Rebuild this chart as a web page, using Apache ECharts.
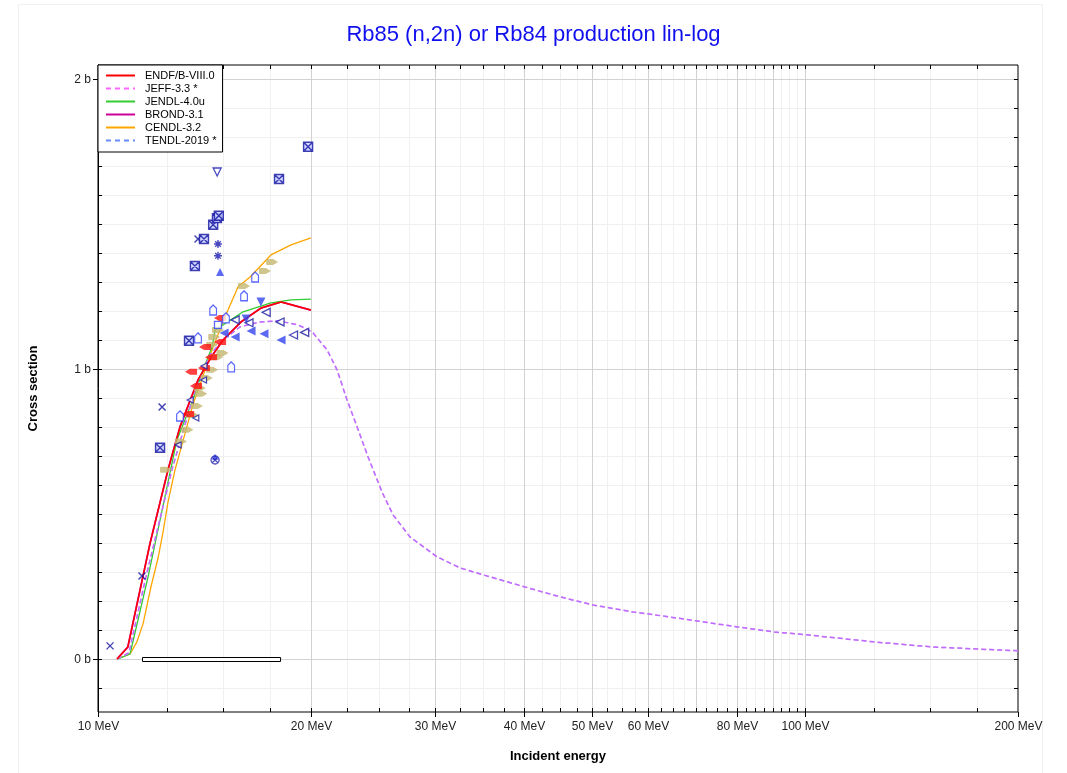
<!DOCTYPE html>
<html>
<head>
<meta charset="utf-8">
<script src="https://cdn.jsdelivr.net/npm/echarts@6/dist/echarts.min.js"></script>
<style>
html,body{margin:0;padding:0;background:#fff;}
#chart{width:1067px;height:773px;}
</style>
</head>
<body>
<div id="chart"></div>
<script>
// ---------- axis ticks / grid values ----------
const xMajorGrid = [10, 20, 30, 40, 50, 60, 70, 80, 90, 100, 200];
const xMinorGrid = [12.5, 15, 17.5, 22.5, 25, 27.5, 32.5, 35, 37.5, 42.5, 45, 47.5, 52.5, 55, 57.5,
  62.5, 65, 67.5, 72.5, 75, 77.5, 82.5, 85, 87.5, 92.5, 95, 97.5, 125, 150, 175];
const xTickLabels = [10, 20, 30, 40, 50, 60, 80, 100, 200];
const yMajorGrid = [0, 1, 2];
const yMinorGrid = [-0.1, 0.1, 0.2, 0.3, 0.4, 0.5, 0.6, 0.7, 0.8, 0.9, 1.1, 1.2, 1.3, 1.4, 1.5, 1.6, 1.7, 1.8, 1.9, 2.0];
const yTickLabels = ['0 b', '1 b', '2 b'];
const xMin = 10, xMax = 200, yMin = -0.183, yMax = 2.048;

// ---------- evaluated curves ----------
const endfE = [10.64, 11.02, 11.85, 12.56, 13.06, 13.85, 14.45, 15.03, 15.93, 17.0, 18.15, 20.0];
const endfS = [0, 0.041, 0.40, 0.652, 0.80, 0.962, 1.04, 1.10, 1.162, 1.21, 1.231, 1.203];
const jendlE = [10.67, 11.10, 11.77, 12.93, 13.62, 14.08, 14.50, 14.64, 14.80, 16.04, 17.56, 18.75, 20.0];
const jendlS = [0, 0.017, 0.283, 0.755, 0.893, 0.997, 1.076, 1.134, 1.141, 1.197, 1.228, 1.238, 1.241];
const cendlE = [10.64, 11.10, 11.35, 11.58, 11.88, 12.16, 12.36, 12.56, 12.85, 13.62, 14.55, 15.12, 15.78, 16.41, 17.56, 18.75, 20.0];
const cendlS = [0, 0.017, 0.059, 0.121, 0.248, 0.348, 0.438, 0.541, 0.652, 0.876, 1.076, 1.179, 1.283, 1.317, 1.393, 1.428, 1.452];
const tendlE = [10.64, 11.06, 11.69, 12.72, 13.72, 14.40, 15.02, 15.88, 16.95, 17.97, 19.18, 20.08, 21.08, 21.78,
  22.50, 23.25, 24.09, 25.21, 26.13, 27.61, 30.17, 32.51, 35.04, 40.18, 45.03, 50.13, 57.1, 60.1, 70.3, 80.4,
  90.4, 100.7, 124.8, 151.7, 200];
const tendlS = [0, 0.021, 0.283, 0.652, 0.928, 1.048, 1.10, 1.145, 1.162, 1.166, 1.152, 1.128, 1.066, 0.997,
  0.893, 0.80, 0.697, 0.576, 0.497, 0.421, 0.352, 0.314, 0.290, 0.248, 0.214, 0.186, 0.162, 0.155, 0.131, 0.110,
  0.093, 0.083, 0.059, 0.041, 0.028];
const jeffE = tendlE.slice();
const jeffS = tendlS.slice();
const brondE = endfE.slice();
const brondS = endfS.slice();

// ---------- experimental points [E (MeV), sigma (b)] ----------
const expCross = [[10.40, 0.045], [11.54, 0.286], [12.32, 0.869], [13.85, 1.448]];
const expCrossFaint = [[14.55, 1.869]];
const expCrossSquare = [[12.24, 0.728], [13.45, 1.097], [13.71, 1.355], [14.12, 1.448], [14.55, 1.497],
  [14.73, 1.52], [14.82, 1.528], [18.03, 1.655], [19.82, 1.766]];
const expDownOpen = [[14.74, 1.679]];
const expAsterisk = [[14.78, 1.431], [14.78, 1.39]];
const expUpFilled = [[14.88, 1.334]];
const expHouse = [[14.55, 1.203], [15.17, 1.176], [16.09, 1.252], [16.68, 1.317], [13.85, 1.107], [13.06, 0.838], [15.43, 1.007]];
const expSquareOpen = [[14.78, 1.152]];
const expRed = [[14.88, 1.176], [14.17, 1.076], [13.54, 0.99], [13.76, 0.941], [13.41, 0.845], [14.45, 1.04], [14.88, 1.093], [14.12, 1.003]];
const expKhaki = [[17.63, 1.369], [17.22, 1.338], [16.09, 1.286], [14.78, 1.134], [14.5, 1.083], [15.0, 1.055],
  [14.75, 1.041], [14.5, 0.997], [14.25, 0.969], [13.93, 0.934], [14.0, 0.914], [13.8, 0.872], [13.6, 0.841],
  [13.38, 0.79], [13.1, 0.75], [12.48, 0.652], [14.6, 1.11]];
const expLeftFilled = [[15.63, 1.110], [16.46, 1.131], [17.17, 1.121], [18.15, 1.10], [15.08, 1.124]];
const expDownFilled = [[17.0, 1.231], [16.2, 1.172]];
const expLeftOpen = [[15.63, 1.169], [16.35, 1.159], [17.29, 1.195], [18.09, 1.162], [18.9, 1.117], [19.6, 1.126]];
const expSmallNavy = [[14.1, 0.962], [13.5, 0.893], [13.75, 0.831], [12.98, 0.738], [14.12, 1.01]];
const expCircleCross = [[14.64, 0.686]];
const expSmallTri = [[14.64, 0.697]];
const energyRange = [[11.54, 18.09, 0]];

function zip(a, b) { return a.map((v, i) => [v, b[i]]); }

const P_CROSS = 'path://M0,0L10,10M10,0L0,10';
const P_XSQ = 'path://M0,0L10,0L10,10L0,10Z M0,0L10,10 M10,0L0,10';
const P_AST = 'path://M5,0L5,10M0,5L10,5M1.5,1.5L8.5,8.5M8.5,1.5L1.5,8.5';
const P_HOUSE = 'path://M5,0L10,4L10,12L0,12L0,4Z';
const P_REDARROW = 'path://M0,4L5,0L12,0L12,8L5,8Z';
const P_KHAKI = 'path://M0,1Q0,0 1,0L7,0L12,4L7,8L1,8Q0,8 0,7Z';
const P_LEFT = 'path://M0,5L10,0L10,10Z';
const P_CIRCX = 'path://M0,5A5,5 0 1,1 10,5A5,5 0 1,1 0,5Z M1.5,1.5L8.5,8.5M8.5,1.5L1.5,8.5';

function scatter(data, symbol, size, itemStyle, extra) {
  return Object.assign({
    type: 'scatter', data: data, symbol: symbol, symbolSize: size,
    itemStyle: itemStyle, z: 4, silent: true, symbolKeepAspect: true
  }, extra || {});
}

function renderGrid(params, api) {
  const ch = [];
  const bl = api.coord([xMin, yMin]);
  const tr = api.coord([xMax, yMax]);
  const L = bl[0], B = bl[1], R = tr[0], T = tr[1];
  const font = '12px "Liberation Sans", Arial, sans-serif';
  function vline(v, color) {
    const x = Math.round(api.coord([v, 0])[0]) + 0.5;
    ch.push({type: 'line', shape: {x1: x, y1: B, x2: x, y2: T}, style: {stroke: color, lineWidth: 1}});
    ch.push({type: 'line', shape: {x1: x, y1: B, x2: x, y2: B - 4}, style: {stroke: '#000', lineWidth: 1}});
    ch.push({type: 'line', shape: {x1: x, y1: T, x2: x, y2: T + 4}, style: {stroke: '#000', lineWidth: 1}});
  }
  function hline(v, color) {
    const y = Math.round(api.coord([xMin, v])[1]) + 0.5;
    ch.push({type: 'line', shape: {x1: L, y1: y, x2: R, y2: y}, style: {stroke: color, lineWidth: 1}});
    ch.push({type: 'line', shape: {x1: L, y1: y, x2: L + 4, y2: y}, style: {stroke: '#000', lineWidth: 1}});
    ch.push({type: 'line', shape: {x1: R, y1: y, x2: R - 4, y2: y}, style: {stroke: '#000', lineWidth: 1}});
  }
  xMinorGrid.forEach(v => vline(v, '#f0f0f0'));
  yMinorGrid.forEach(v => hline(v, '#f0f0f0'));
  xMajorGrid.forEach(v => { if (v !== xMin && v !== xMax) vline(v, '#d2d2d2'); });
  yMajorGrid.forEach(v => hline(v, '#d2d2d2'));
  xTickLabels.forEach(v => {
    const x = Math.round(api.coord([v, 0])[0]) + 0.5;
    ch.push({type: 'line', shape: {x1: x, y1: B, x2: x, y2: B + 5}, style: {stroke: '#000', lineWidth: 1}});
    ch.push({type: 'text', x: x, y: B + 9, style: {text: v + ' MeV', fill: '#222', font: font, textAlign: 'center', textVerticalAlign: 'top', verticalAlign: 'top'}});
  });
  yMajorGrid.forEach((v, i) => {
    const y = Math.round(api.coord([xMin, v])[1]) + 0.5;
    ch.push({type: 'line', shape: {x1: L, y1: y, x2: L - 5, y2: y}, style: {stroke: '#000', lineWidth: 1}});
    ch.push({type: 'text', x: L - 7, y: y, style: {text: yTickLabels[i], fill: '#222', font: font, textAlign: 'right', textVerticalAlign: 'middle', verticalAlign: 'middle'}});
  });
  return {type: 'group', children: ch};
}

function renderRange(params, api) {
  const a = api.coord([api.value(0), api.value(2)]);
  const b = api.coord([api.value(1), api.value(2)]);
  return {type: 'rect', shape: {x: Math.round(a[0]) + 0.5, y: Math.round(a[1]) - 1.5, width: b[0] - a[0], height: 4},
    style: {fill: '#fff', stroke: '#000', lineWidth: 1}};
}

const chart = echarts.init(document.getElementById('chart'), null, {renderer: 'canvas'});
const FONT = '"Liberation Sans", Arial, sans-serif';
chart.setOption({
  backgroundColor: '#fff',
  animation: false,
  title: {
    text: 'Rb85 (n,2n) or Rb84 production lin-log',
    left: 'center', top: 19,
    textStyle: {color: '#1010ee', fontSize: 22, fontWeight: 'normal', fontFamily: FONT}
  },
  graphic: [{type: 'rect', shape: {x: 18.5, y: 4.5, width: 1024, height: 775}, style: {fill: 'none', stroke: '#f0f0f0', lineWidth: 1}, silent: true, z: -10}],
  grid: {left: 98, right: 49, top: 65, bottom: 61, show: true, borderColor: '#000', borderWidth: 1, backgroundColor: 'transparent'},
  legend: {
    left: 98, top: 65, orient: 'vertical',
    itemWidth: 29, itemHeight: 8, itemGap: 2,
    padding: [5, 6, 6, 7],
    borderColor: '#000', borderWidth: 1, backgroundColor: '#fff', borderRadius: 0,
    itemStyle: {opacity: 0},
    textStyle: {fontSize: 11, color: '#000', fontFamily: FONT, padding: [0, 0, 0, 5]},
    data: [
      {name: 'ENDF/B-VIII.0'},
      {name: 'JEFF-3.3 *', lineStyle: {color: '#ff66ff', type: [5, 4], width: 1.8}},
      {name: 'JENDL-4.0u'},
      {name: 'BROND-3.1'},
      {name: 'CENDL-3.2'},
      {name: 'TENDL-2019 *', lineStyle: {color: '#3366ff', type: [5, 4], width: 1.8}}
    ],
    z: 10
  },
  xAxis: {
    type: 'log', logBase: 10, min: xMin, max: xMax,
    axisLine: {show: true, lineStyle: {color: '#000'}},
    axisTick: {show: false}, axisLabel: {show: false}, splitLine: {show: false},
    name: 'Incident energy', nameLocation: 'middle', nameGap: 38,
    nameTextStyle: {fontWeight: 'bold', fontSize: 13, color: '#000', fontFamily: FONT}
  },
  yAxis: {
    type: 'value', min: yMin, max: yMax,
    axisLine: {show: true, lineStyle: {color: '#000'}},
    axisTick: {show: false}, axisLabel: {show: false}, splitLine: {show: false},
    name: 'Cross section', nameLocation: 'middle', nameGap: 58,
    nameTextStyle: {fontWeight: 'bold', fontSize: 13, color: '#000', fontFamily: FONT}
  },
  series: [
    {type: 'custom', name: 'grid', coordinateSystem: 'cartesian2d', renderItem: renderGrid, data: [[xMin, 0]], z: 1, silent: true, clip: false},
    {type: 'line', name: 'BROND-3.1', data: zip(brondE, brondS), symbol: 'none', lineStyle: {color: '#cc0099', width: 1.8}, itemStyle: {color: '#cc0099'}, z: 3},
    {type: 'line', name: 'CENDL-3.2', data: zip(cendlE, cendlS), symbol: 'none', lineStyle: {color: '#ffa500', width: 1.3}, itemStyle: {color: '#ffa500'}, z: 3},
    {type: 'line', name: 'JENDL-4.0u', data: zip(jendlE, jendlS), symbol: 'none', lineStyle: {color: '#33cc33', width: 1.3}, itemStyle: {color: '#33cc33'}, z: 3},
    {type: 'line', name: 'JEFF-3.3 *', data: zip(jeffE, jeffS), symbol: 'none', lineStyle: {color: '#ee88ff', width: 1.5, type: [5, 3]}, itemStyle: {color: '#ee88ff'}, z: 3},
    {type: 'line', name: 'TENDL-2019 *', data: zip(tendlE, tendlS), symbol: 'none', lineStyle: {color: '#aa66ff', width: 1.5, type: [5, 3], opacity: 0.75}, itemStyle: {color: '#aa66ff'}, z: 3},
    {type: 'line', name: 'ENDF/B-VIII.0', data: zip(endfE, endfS), symbol: 'none', lineStyle: {color: '#ff0000', width: 1.5}, itemStyle: {color: '#ff0000'}, z: 3},
    {type: 'custom', name: 'range', coordinateSystem: 'cartesian2d', renderItem: renderRange, data: energyRange, z: 5, silent: true, clip: false},
    scatter(expKhaki, P_KHAKI, [12, 9], {color: '#c4b870'}),
    scatter(expRed, P_REDARROW, [12, 9], {color: '#ff1010'}),
    scatter(expCross, P_CROSS, 7, {color: 'transparent', borderColor: '#1010a0', borderWidth: 1.4}),
    scatter(expCrossFaint, P_CROSS, 6, {color: 'transparent', borderColor: '#c8c8f0', borderWidth: 1}),
    scatter(expCrossSquare, P_XSQ, 9, {color: '#c8d0ff', borderColor: '#1010a0', borderWidth: 1.4}),
    scatter(expDownOpen, 'triangle', 8, {color: '#fff', borderColor: '#1a1ab0', borderWidth: 1.3}, {symbolRotate: 180}),
    scatter(expAsterisk, P_AST, 8, {color: 'transparent', borderColor: '#1a1ab0', borderWidth: 1.4}),
    scatter(expUpFilled, 'triangle', 8, {color: '#3344ee'}),
    scatter(expHouse, P_HOUSE, [8, 10], {color: '#fff', borderColor: '#3344ff', borderWidth: 1.3}),
    scatter(expSquareOpen, 'rect', 7, {color: '#fff', borderColor: '#3344ff', borderWidth: 1.3}),
    scatter(expLeftFilled, P_LEFT, 9, {color: '#3344ee'}),
    scatter(expDownFilled, 'triangle', 9, {color: '#3344ee'}, {symbolRotate: 180}),
    scatter(expLeftOpen, P_LEFT, 8, {color: '#fff', borderColor: '#1a1aa0', borderWidth: 1.3}),
    scatter(expSmallNavy, P_LEFT, 6, {color: '#fff', borderColor: '#1a1aa0', borderWidth: 1.2}),
    scatter(expSmallTri, 'triangle', 6, {color: '#3344ee'}),
    scatter(expCircleCross, P_CIRCX, 8, {color: 'transparent', borderColor: '#1a1ab0', borderWidth: 1.3})
  ]
});
</script>
</body>
</html>
